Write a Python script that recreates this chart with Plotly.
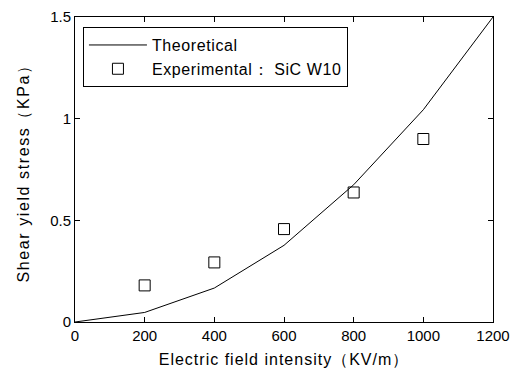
import plotly.graph_objects as go

field_theory = [0, 200, 400, 600, 800, 1000, 1200]
stress_theory = [0, 0.047, 0.167, 0.377, 0.675, 1.044, 1.5]
field_exp = [200, 400, 600, 800, 1000]
stress_exp = [0.18, 0.293, 0.457, 0.637, 0.90]
x_ticks = [0, 200, 400, 600, 800, 1000, 1200]
y_ticks = [0, 0.5, 1, 1.5]
y_tick_text = ["0", "0.5", "1", "1.5"]
series_names = ["Theoretical", "Experimental\uff1a SiC W10"]
x_title = "Electric field intensity\uff08KV/m\uff09"
y_title = "Shear yield stress\uff08KPa\uff09"

FONT = "Liberation Sans, Arial, sans-serif"


def spaced(text, px):
    return '<span style="letter-spacing:%spx">%s</span>' % (px, text)


fig = go.Figure()
fig.add_trace(go.Scatter(x=field_theory, y=stress_theory, mode="lines",
                         name=spaced(series_names[0], 0.6),
                         line=dict(color="black", width=1)))
fig.add_trace(go.Scatter(x=field_exp, y=stress_exp, mode="markers",
                         name=spaced(series_names[1], 0.6),
                         marker=dict(symbol="square-open", size=11, color="black",
                                     line=dict(width=1, color="black"))))

axis_common = dict(showgrid=False, zeroline=False, showline=True, linecolor="black",
                   linewidth=1, mirror="ticks", ticks="inside", ticklen=5,
                   tickcolor="black", automargin=False,
                   tickfont=dict(family=FONT, size=15, color="black"))

# page body has an 8px margin, so the figure is shrunk by 8px and margins shifted
fig.update_layout(
    width=510, height=362,
    margin=dict(l=67, r=25, t=9, b=48),
    paper_bgcolor="white", plot_bgcolor="white",
    font=dict(family=FONT, size=15, color="black"),
    xaxis=dict(range=[0, 1200], tickvals=x_ticks,
               title=dict(text=spaced(x_title, 1.0),
                          standoff=10, font=dict(family=FONT, size=16)), **axis_common),
    yaxis=dict(range=[0, 1.5], tickvals=y_ticks, ticktext=y_tick_text,
               title=dict(text=spaced(y_title, 1.6), standoff=16,
                          font=dict(family=FONT, size=16)), **axis_common),
    legend=dict(x=0.019, y=0.967, xanchor="left", yanchor="top",
                bordercolor="black", borderwidth=1, bgcolor="white",
                font=dict(family=FONT, size=16), tracegroupgap=0,
                itemwidth=58),
    showlegend=True,
)

fig.write_html("out.html")
